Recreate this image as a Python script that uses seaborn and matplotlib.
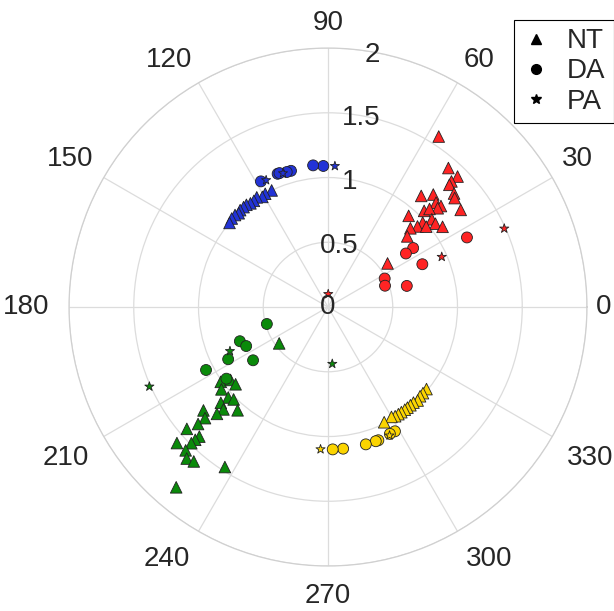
import numpy as np
import pandas as pd
import matplotlib
matplotlib.use("Agg")
import matplotlib.pyplot as plt
from matplotlib.lines import Line2D
import seaborn as sns

# angles in degrees, radius
red_nt_theta = [57.0, 49.1, 45.2, 45.5, 45.2, 42.0, 40.7, 50.0, 46.9, 44.0, 41.8, 42.0, 45.0,
                44.0, 36.2, 48.5, 40.2, 41.7, 37.8, 35.0, 42.0, 39.3, 43.7, 41.7, 36.2]
red_nt_r = [1.57, 1.42, 1.42, 1.36, 1.33, 1.31, 1.29, 1.12, 1.19, 1.16, 1.17, 1.14, 1.05,
            1.09, 1.27, 0.94, 1.05, 0.98, 1.05, 1.08, 0.93, 0.98, 0.88, 0.82, 0.57]
red_da_theta = [26.6, 34.7, 34.5, 24.4, 26.7, 20.5, 15.0]
red_da_r = [1.20, 0.80, 0.73, 0.80, 0.49, 0.47, 0.63]
red_pa_theta = [24.0, 23.8, 89.0]
red_pa_r = [1.49, 0.96, 0.10]

blue_nt_theta = [115.8, 119.0, 120.8, 123.0, 124.9, 126.8, 128.6, 130.2, 132.2, 133.6, 135.3, 137.4, 139.5]
blue_nt_r = [1.00, 1.00, 0.99, 1.01, 1.00, 1.00, 1.01, 1.01, 1.01, 1.00, 1.01, 1.01, 1.00]
blue_da_theta = [91.9, 96.0, 105.2, 107.0, 110.7, 109.9, 118.1]
blue_da_r = [1.09, 1.10, 1.09, 1.09, 1.10, 1.10, 1.10]
blue_pa_theta = [87.2, 108.6, 116.0]
blue_pa_r = [1.09, 1.09, 1.09]

green_nt_theta = [216.7, 214.9, 216.8, 219.9, 217.7, 222.2, 224.4, 221.8, 224.4, 228.8, 223.9, 219.7,
                  222.1, 222.0, 220.8, 225.2, 225.0, 222.0, 224.9, 225.2, 227.0, 229.0, 237.2, 229.9]
green_nt_r = [0.47, 1.01, 0.94, 0.93, 1.04, 1.04, 1.02, 1.11, 1.13, 1.06, 1.19, 1.25,
              1.28, 1.35, 1.44, 1.41, 1.45, 1.57, 1.49, 1.56, 1.60, 1.58, 1.47, 1.82]
green_da_theta = [195.5, 201.2, 205.5, 207.6, 215.4, 207.3, 215.2]
green_da_r = [0.49, 0.73, 0.70, 0.87, 0.71, 1.06, 0.96]
green_pa_theta = [204.2, 204.0, 274.3]
green_pa_r = [0.83, 1.51, 0.44]

yellow_nt_theta = [320.2, 317.8, 315.9, 313.8, 311.8, 310.0, 308.3, 306.8, 304.9, 303.3, 301.6, 300.0, 296.0]
yellow_nt_r = [0.99, 0.99, 0.99, 1.00, 0.99, 0.99, 0.99, 0.99, 0.99, 0.99, 0.99, 0.98, 0.99]
yellow_da_theta = [298.3, 296.0, 290.7, 289.6, 285.4, 276.1, 271.9]
yellow_da_r = [1.09, 1.09, 1.10, 1.10, 1.10, 1.10, 1.10]
yellow_pa_theta = [267.0, 295.6]
yellow_pa_r = [1.10, 1.10]

colors = {"red": "#ff2424", "blue": "#2233d6", "green": "#0a8a0a", "yellow": "#fbd400"}
angle_ticks = list(range(0, 360, 30))
r_ticks = [0, 0.5, 1, 1.5, 2]
r_tick_labels = ["0", "0.5", "1", "1.5", "2"]
kinds = ["NT", "DA", "PA"]

rows = []
series = {
    ("red", "NT"): (red_nt_theta, red_nt_r), ("red", "DA"): (red_da_theta, red_da_r), ("red", "PA"): (red_pa_theta, red_pa_r),
    ("blue", "NT"): (blue_nt_theta, blue_nt_r), ("blue", "DA"): (blue_da_theta, blue_da_r), ("blue", "PA"): (blue_pa_theta, blue_pa_r),
    ("green", "NT"): (green_nt_theta, green_nt_r), ("green", "DA"): (green_da_theta, green_da_r), ("green", "PA"): (green_pa_theta, green_pa_r),
    ("yellow", "NT"): (yellow_nt_theta, yellow_nt_r), ("yellow", "DA"): (yellow_da_theta, yellow_da_r), ("yellow", "PA"): (yellow_pa_theta, yellow_pa_r),
}
for (grp, kind), (th, rr) in series.items():
    for t, r in zip(th, rr):
        rows.append({"group": grp, "kind": kind, "theta": np.deg2rad(t), "r": r})
df = pd.DataFrame(rows)

sns.set_style("white")
plt.rcParams["font.family"] = ["Liberation Sans", "DejaVu Sans"]

fig = plt.figure(figsize=(6.14, 6.11), dpi=100)
ax = fig.add_axes([0.1124, 0.0736, 0.8436, 0.8478], projection="polar")

markers = {"NT": "^", "DA": "o", "PA": "*"}
sizes = {"NT": 70, "DA": 62, "PA": 48}
for kind in kinds:
    sub = df[df["kind"] == kind]
    sns.scatterplot(data=sub, x="theta", y="r", hue="group", palette=colors, marker=markers[kind],
                    s=sizes[kind], edgecolor="#222222", linewidth=0.6, legend=False, ax=ax, zorder=3)

ax.set_ylim(0, 2)
ax.set_xticks(np.deg2rad(angle_ticks))
ax.set_yticks(r_ticks[1:])
ax.tick_params(labelbottom=False, labelleft=False)
ax.grid(True, color="#dcdcdc", linewidth=0.9)
ax.spines["polar"].set_color("#d0d0d0")
ax.spines["polar"].set_linewidth(0.9)
ax.set_xlabel("")
ax.set_ylabel("")

# angle labels outside the ring
for a in angle_ticks:
    rad = np.deg2rad(a)
    c, s = np.cos(rad), np.sin(rad)
    ha = "left" if c > 0.1 else ("right" if c < -0.1 else "center")
    va = "bottom" if s > 0.1 else ("top" if s < -0.1 else "center")
    off = {"bottom": 2.09, "top": 2.13, "center": 2.12}[va]
    if a == 0:
        off = 2.07
    if a == 180:
        off = 2.15
    ax.text(rad, off, str(a), ha=ha, va=va, fontsize=20, color="#262626")

# radial labels
for rv, lab in zip(r_ticks, r_tick_labels):
    ax.text(np.deg2rad(80), max(rv - 0.02, 0), lab, ha="center", va="center", fontsize=20, color="#262626", zorder=4)

handles = [Line2D([], [], marker=markers[k], color="k", linestyle="none", markersize=7) for k in kinds]
leg = fig.legend(handles, kinds, loc="upper left", bbox_to_anchor=(514 / 614, 1 - 20 / 611), fontsize=20,
                 frameon=True, fancybox=False, edgecolor="black", framealpha=1, borderpad=0.3,
                 handlelength=1.0, handletextpad=0.6, labelspacing=0.15, borderaxespad=0)
leg.get_frame().set_linewidth(0.8)

fig.savefig("out.png", dpi=100)
